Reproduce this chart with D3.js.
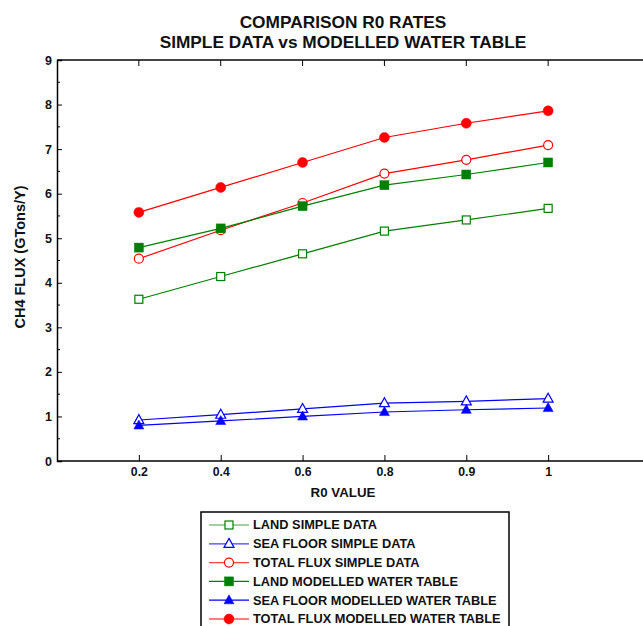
<!DOCTYPE html>
<html>
<head>
<meta charset="utf-8">
<script src="https://cdn.jsdelivr.net/npm/d3@7"></script>
<style>
  html, body { margin: 0; padding: 0; background: #fff; }
  svg { display: block; font-family: Arial, "Liberation Sans", sans-serif; }
</style>
</head>
<body>
<svg id="chart" width="643" height="626"></svg>
<script>
const categories = ["0.2", "0.4", "0.6", "0.8", "0.9", "1"];
const yTicks = [0, 1, 2, 3, 4, 5, 6, 7, 8, 9];
const landSimple = [3.63, 4.14, 4.65, 5.16, 5.41, 5.67];
const seaSimple = [0.92, 1.04, 1.17, 1.30, 1.34, 1.40];
const totalSimple = [4.54, 5.18, 5.79, 6.45, 6.76, 7.09];
const landModelled = [4.79, 5.22, 5.72, 6.19, 6.43, 6.70];
const seaModelled = [0.80, 0.90, 1.00, 1.10, 1.15, 1.19];
const totalModelled = [5.58, 6.14, 6.70, 7.26, 7.58, 7.86];
const seriesNames = [
  "LAND SIMPLE DATA",
  "SEA FLOOR SIMPLE DATA",
  "TOTAL FLUX SIMPLE DATA",
  "LAND MODELLED WATER TABLE",
  "SEA FLOOR MODELLED WATER TABLE",
  "TOTAL FLUX MODELLED WATER TABLE"
];
const seriesColors = ["#008000", "#0000ff", "#ff0000", "#008000", "#0000ff", "#ff0000"];
const seriesShapes = ["square", "triangle", "circle", "square", "triangle", "circle"];
const seriesFilled = [false, false, false, true, true, true];
const seriesValues = [landSimple, seaSimple, totalSimple, landModelled, seaModelled, totalModelled];

(function () {
const svg = d3.select("#chart");
const pL = 57, pR = 630, pT = 60, pB = 461;
const FONT = "Arial, 'Liberation Sans', sans-serif";

const x = d3.scalePoint().domain(categories).range([pL, pR]).padding(1);
const y = d3.scaleLinear().domain([0, 9]).range([pB, pT]);

// Title
svg.append("text").attr("x", 343).attr("y", 27.5).attr("text-anchor", "middle")
  .attr("font-size", 17.3).attr("font-weight", "bold").attr("fill", "#111").text("COMPARISON R0 RATES");
svg.append("text").attr("x", 343).attr("y", 48).attr("text-anchor", "middle")
  .attr("font-size", 17.3).attr("font-weight", "bold").attr("fill", "#111").text("SIMPLE DATA vs MODELLED WATER TABLE");

// Frame line
svg.append("line").attr("x1", pL).attr("x2", 643).attr("y1", pT).attr("y2", pT)
  .attr("stroke", "#444").attr("stroke-width", 2);

// Y axis
const yAxis = svg.append("g").attr("transform", `translate(${pL},0)`)
  .call(d3.axisLeft(y).tickValues(yTicks).tickFormat(d3.format("d")).tickSize(-5).tickPadding(5));
yAxis.select(".domain").attr("stroke", "#000").attr("stroke-width", 1.5);
yAxis.selectAll("text").attr("font-size", 12.5).attr("font-weight", "bold")
  .attr("font-family", FONT).attr("fill", "#111");
const minor = d3.range(0.5, 9, 1);
svg.append("g").selectAll("line").data(minor).join("line")
  .attr("x1", pL).attr("x2", pL + 3).attr("y1", d => y(d)).attr("y2", d => y(d))
  .attr("stroke", "#000").attr("stroke-width", 1);

// X axis
const xAxis = svg.append("g").attr("transform", `translate(0,${pB})`)
  .call(d3.axisBottom(x).tickSize(-6).tickPadding(6).tickSizeOuter(0));
xAxis.select(".domain").attr("d", `M${pL},0H643`).attr("stroke", "#000").attr("stroke-width", 1.5);
xAxis.selectAll("text").attr("font-size", 12.3).attr("font-weight", "bold")
  .attr("font-family", FONT).attr("fill", "#111");
svg.append("g").selectAll("line").data(categories).join("line")
  .attr("x1", d => x(d)).attr("x2", d => x(d)).attr("y1", pT).attr("y2", pT + 6)
  .attr("stroke", "#000").attr("stroke-width", 1);

// Axis titles
svg.append("text").attr("x", 343).attr("y", 497).attr("text-anchor", "middle")
  .attr("font-size", 13.3).attr("font-weight", "bold").attr("fill", "#111").text("R0 VALUE");
svg.append("text").attr("transform", "translate(25,257) rotate(-90)").attr("text-anchor", "middle")
  .attr("font-size", 14.5).attr("font-weight", "bold").attr("fill", "#111").text("CH4 FLUX (GTons/Y)");

function drawMarker(g, shape, filled, color, cx, cy) {
  const fill = filled ? color : "#fff";
  if (shape === "square") {
    const s = filled ? 9 : 8;
    g.append("rect").attr("x", cx - s / 2).attr("y", cy - s / 2).attr("width", s).attr("height", s)
      .attr("fill", fill).attr("stroke", color).attr("stroke-width", filled ? 0.5 : 1.2);
  } else if (shape === "circle") {
    g.append("circle").attr("cx", cx).attr("cy", cy).attr("r", filled ? 5 : 4.5)
      .attr("fill", fill).attr("stroke", color).attr("stroke-width", filled ? 0.5 : 1.2);
  } else {
    const h = 9, w = 10;
    g.append("path").attr("d", `M${cx},${cy - h * 0.6}L${cx + w / 2},${cy + h * 0.4}L${cx - w / 2},${cy + h * 0.4}Z`)
      .attr("fill", fill).attr("stroke", color).attr("stroke-width", filled ? 0.5 : 1.2);
  }
}

// Series
const line = d3.line().x((d, i) => x(categories[i])).y(d => y(d));
seriesValues.forEach((vals, si) => {
  const g = svg.append("g");
  g.append("path").datum(vals).attr("d", line).attr("fill", "none")
    .attr("stroke", seriesColors[si]).attr("stroke-width", 1.2);
  vals.forEach((v, i) => drawMarker(g, seriesShapes[si], seriesFilled[si], seriesColors[si], x(categories[i]), y(v)));
});

// Legend
const lg = svg.append("g");
lg.append("rect").attr("x", 201).attr("y", 512).attr("width", 308).attr("height", 130)
  .attr("fill", "#fff").attr("stroke", "#000").attr("stroke-width", 1.5);
seriesNames.forEach((name, i) => {
  const cy = 525 + i * 18.8;
  lg.append("line").attr("x1", 209).attr("x2", 249).attr("y1", cy).attr("y2", cy)
    .attr("stroke", seriesColors[i]).attr("stroke-width", 1.2).attr("stroke-opacity", seriesFilled[i] ? 1 : 0.75);
  drawMarker(lg, seriesShapes[i], seriesFilled[i], seriesColors[i], 229, cy);
  lg.append("text").attr("x", 253).attr("y", cy + 4.3).attr("font-size", 12.8).attr("font-weight", "bold")
    .attr("fill", "#111").text(name);
});
})();
</script>
</body>
</html>
